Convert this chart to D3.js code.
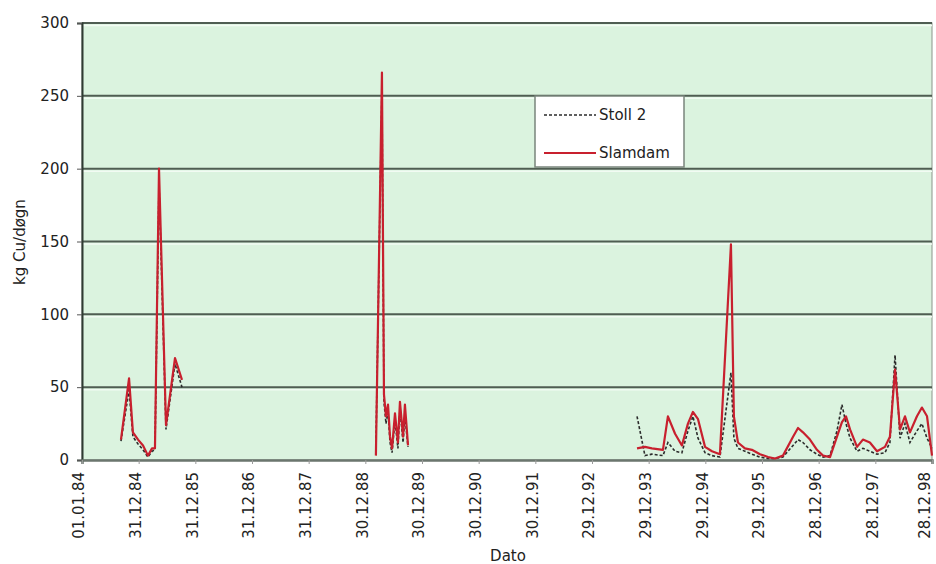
<!DOCTYPE html>
<html>
<head>
<meta charset="utf-8">
<script src="https://cdn.jsdelivr.net/npm/d3@7"></script>
<style>
  html, body { margin: 0; padding: 0; background: #ffffff; }
  svg { display: block; }
  text { font-family: "DejaVu Sans", sans-serif; fill: #222; }
</style>
</head>
<body>
<svg id="chart" width="936" height="564"></svg>
<script>
// ---- data ----
const tickLabels = ["01.01.84","31.12.84","31.12.85","31.12.86","31.12.87","30.12.88","30.12.89","30.12.90","30.12.91","29.12.92","29.12.93","29.12.94","29.12.95","28.12.96","28.12.97","28.12.98"];
const yTicks = [0, 50, 100, 150, 200, 250, 300];
const seriesNames = ["Stoll 2", "Slamdam"];
const xTitle = "Dato";
const yTitle = "kg Cu/døgn";

const dates = [
  "1984-09-08","1984-10-30","1984-11-24","1984-12-27","1985-01-28","1985-03-01","1985-03-27","1985-04-15","1985-05-11","1985-06-25","1985-08-22","1985-10-06",
  "1987-01-01",
  "1989-03-08","1989-04-16","1989-04-29","1989-05-12","1989-05-25","1989-06-07","1989-06-20","1989-07-09","1989-07-28","1989-08-10","1989-08-30","1989-09-11","1989-10-01",
  "1991-06-01",
  "1993-10-15","1993-12-05","1994-01-19","1994-03-31","1994-05-02","1994-06-17","1994-07-31","1994-09-08","1994-10-10","1994-11-12","1994-12-27",
  "1995-02-10","1995-04-02","1995-06-12","1995-07-01","1995-07-27","1995-09-10","1995-10-25","1995-12-16",
  "1996-02-06","1996-03-22","1996-05-12","1996-07-16","1996-08-17","1996-09-18","1996-11-02","1996-12-17",
  "1997-01-25","1997-03-11","1997-04-25","1997-05-27","1997-06-22","1997-07-18","1997-09-01","1997-10-09","1997-11-23",
  "1998-01-08","1998-02-28","1998-04-01","1998-05-04","1998-06-05","1998-07-07","1998-08-08","1998-09-22","1998-10-24","1998-11-26","1998-12-28"
];

const stoll2 = [
  13, 48, 16, 11, 7, 2, 6, 7, 190, 21, 66, 50,
  null,
  8, 255, 40, 25, 34, 12, 5, 27, 8, 35, 12, 30, 9,
  null,
  30, 3, 4, 3, 12, 6, 5, 20, 30, 15, 5,
  3, 2, 60, 15, 8, 6, 4, 2,
  1, 1, 2, 10, 14, 12, 7, 4,
  2, 3, 20, 38, 25, 15, 6, 8, 6,
  4, 5, 12, 72, 15, 25, 12, 20, 25, 15, 8
];

const slamdam = [
  14, 56, 19, 14, 10, 3, 8, 8, 200, 24, 70, 55,
  null,
  3, 266, 45, 30, 38, 16, 8, 32, 12, 40, 16, 38, 10,
  null,
  8, 9, 8, 7, 30, 18, 10, 25, 33, 28, 9,
  6, 4, 148, 30, 12, 8, 7, 4,
  2, 1, 3, 16, 22, 19, 14, 7,
  3, 2, 16, 26, 30, 21, 9, 14, 12,
  6, 9, 16, 62, 21, 30, 19, 30, 36, 30, 3
];

// ---- chart ----
const mLeft = 82, mRight = 932, mTop = 23, mBottom = 460;
const svg = d3.select("#chart");

const parseISO = d3.utcParse("%Y-%m-%d");
const parseTick = d3.utcParse("%d.%m.%y");
const tickDates = tickLabels.map(parseTick);

const x = d3.scaleUtc()
  .domain([tickDates[0], tickDates[tickDates.length - 1]])
  .range([mLeft, mRight]);
const y = d3.scaleLinear().domain([0, 300]).range([mBottom, mTop]);

// plot background
svg.append("rect")
  .attr("x", mLeft).attr("y", mTop)
  .attr("width", mRight - mLeft).attr("height", mBottom - mTop)
  .attr("fill", "#dbf3df")
  .attr("stroke", "#8a948a").attr("stroke-width", 1);

// gridlines
svg.append("g").selectAll("line")
  .data(yTicks.filter(v => v > 0))
  .join("line")
  .attr("x1", mLeft).attr("x2", mRight)
  .attr("y1", d => y(d)).attr("y2", d => y(d))
  .attr("stroke", "#4f5d52").attr("stroke-width", 2);
svg.append("g").selectAll("line")
  .data(yTicks.filter(v => v > 0))
  .join("line")
  .attr("x1", mLeft).attr("x2", mRight)
  .attr("y1", d => y(d) + 2.5).attr("y2", d => y(d) + 2.5)
  .attr("stroke", "#f2fbf3").attr("stroke-width", 1.5);

// y axis
const yAxis = d3.axisLeft(y).tickValues(yTicks).tickSize(5).tickPadding(8).tickFormat(d3.format("d"));
const gy = svg.append("g").attr("transform", `translate(${mLeft},0)`).call(yAxis);
gy.select(".domain").attr("stroke", "#2f3a32").attr("stroke-width", 2);
gy.selectAll(".tick line").attr("stroke", "#555");
gy.selectAll("text").attr("font-family", "DejaVu Sans").attr("font-size", 15).attr("fill", "#222");

// x axis
const xAxis = d3.axisBottom(x).tickValues(tickDates).tickSize(4).tickFormat((d, i) => tickLabels[i]);
const gx = svg.append("g").attr("transform", `translate(0,${mBottom})`).call(xAxis);
gx.select(".domain").attr("stroke", "#6b766e").attr("stroke-width", 2.5);
gx.selectAll(".tick line").attr("stroke", "#999");
gx.selectAll("text")
  .attr("font-family", "DejaVu Sans").attr("font-size", 15).attr("fill", "#222")
  .attr("text-anchor", "end")
  .attr("transform", "rotate(-90)")
  .attr("x", -12).attr("y", 0)
  .attr("dy", (d, i) => i === tickLabels.length - 1 ? "-0.18em" : "0.12em");

// series
const rows = dates.map((d, i) => ({ date: parseISO(d), s: stoll2[i], m: slamdam[i] }));
const lineS = d3.line().defined(d => d.s != null).x(d => x(d.date)).y(d => y(d.s));
const lineM = d3.line().defined(d => d.m != null).x(d => x(d.date)).y(d => y(d.m));

svg.append("path").datum(rows)
  .attr("d", lineS).attr("fill", "none")
  .attr("stroke", "#2b2b2b").attr("stroke-width", 1.6)
  .attr("stroke-dasharray", "3,2");
svg.append("path").datum(rows)
  .attr("d", lineM).attr("fill", "none")
  .attr("stroke", "#c8202e").attr("stroke-width", 2.2)
  .attr("stroke-linejoin", "round");

// axis titles
svg.append("text")
  .attr("x", 508).attr("y", 561)
  .attr("text-anchor", "middle")
  .attr("font-size", 15)
  .text(xTitle);
svg.append("text")
  .attr("transform", "translate(25,242) rotate(-90)")
  .attr("text-anchor", "middle")
  .attr("font-size", 15)
  .text(yTitle);

// legend
const lg = svg.append("g");
lg.append("rect")
  .attr("x", 535).attr("y", 96).attr("width", 149).attr("height", 71)
  .attr("fill", "#ffffff").attr("stroke", "#7a857c").attr("stroke-width", 1.5);
const legendItems = [
  { name: seriesNames[0], color: "#2b2b2b", dash: "3,2", w: 1.6, yy: 115 },
  { name: seriesNames[1], color: "#c8202e", dash: null, w: 2.2, yy: 153 }
];
legendItems.forEach(it => {
  lg.append("line")
    .attr("x1", 544).attr("x2", 596)
    .attr("y1", it.yy).attr("y2", it.yy)
    .attr("stroke", it.color).attr("stroke-width", it.w)
    .attr("stroke-dasharray", it.dash);
  lg.append("text")
    .attr("x", 599).attr("y", it.yy).attr("dy", "0.35em")
    .attr("font-size", 15)
    .text(it.name);
});
</script>
</body>
</html>
